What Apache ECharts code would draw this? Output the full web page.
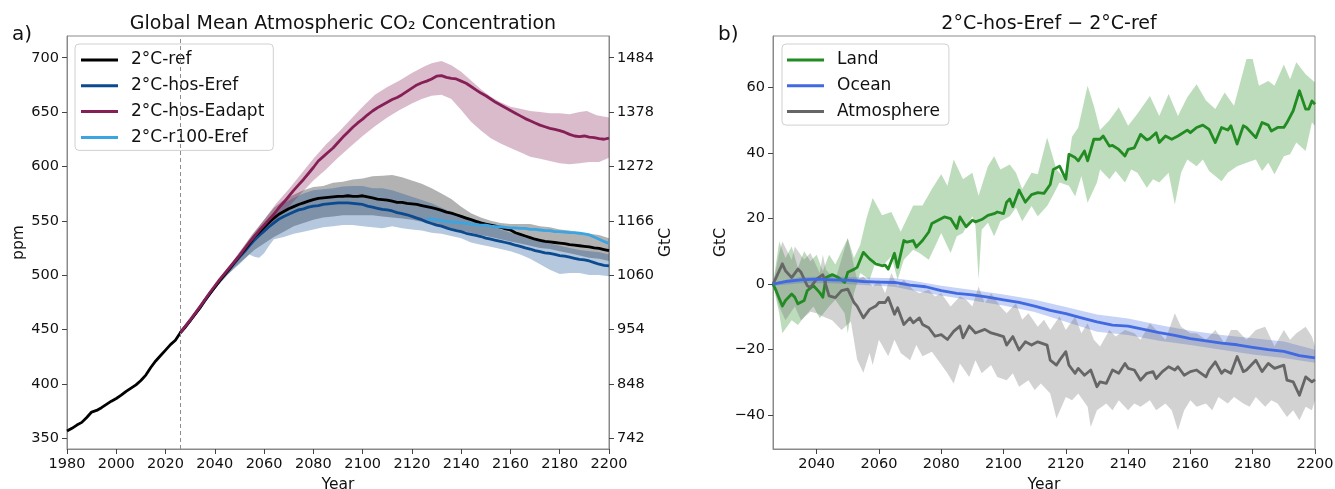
<!DOCTYPE html>
<html>
<head>
<meta charset="utf-8">
<script src="https://cdn.jsdelivr.net/npm/echarts@6/dist/echarts.min.js"></script>
<style>
html, body { margin: 0; padding: 0; background: #fff; }
#chart { width: 1335px; height: 489px; }
</style>
</head>
<body>
<div id="chart"></div>
<script>
// ---------- Panel a: CO2 concentration (ppm), [year, value] ----------
const refLine = [[1980,356.5],[1982,359],[1984,362],[1986,364.5],[1988,369],[1990,374],[1992,375.5],[1994,378],[1996,381],[1998,384],[2000,386.5],[2002,389.5],[2004,393],[2006,396],[2008,399],[2010,403],[2012,408],[2014,415],[2016,421],[2018,426],[2020,431],[2022,436],[2024,440],[2026,447],
  [2028,452],[2030,458],[2032,464],[2034,470],[2036,477],[2038,483],[2040,489],[2042,495],[2044,500.5],[2046,506],[2048,512],[2050,517.5],[2052,523],[2054,529],[2056,535],[2058,539.5],[2060,544],[2062,548.5],[2064,552.5],[2066,556],[2068,558.5],[2070,561],[2072,563],[2074,565],[2076,566.5],[2078,568],[2080,569.5],[2082,570.5],[2084,571],[2086,571.5],[2088,572],[2090,572.5],[2092,572.5],[2094,573],[2096,572.5],[2098,572.5],[2100,573],[2102,572],[2104,571],[2106,570],[2108,569.5],[2110,569],[2112,568],[2114,567],[2116,567],[2118,566],[2120,565.5],[2122,565],[2124,564],[2126,563],[2128,562],[2130,561],[2132,559.5],[2134,558],[2136,557],[2138,555.5],[2140,554],[2142,552.5],[2144,551],[2146,549.5],[2148,548],[2150,547],[2152,546],[2154,545],[2156,544],[2158,542.5],[2160,541.5],[2162,539],[2164,537.5],[2166,536],[2168,534.5],[2170,533],[2172,532],[2174,531],[2176,530.5],[2178,530],[2180,529.5],[2182,529],[2184,528],[2186,527.5],[2188,527],[2190,526.5],[2192,526],[2194,525],[2196,524.5],[2198,523.5],[2200,522.5]];
const refHi = [[2026,449],[2030,461],[2035,476],[2040,491],[2045,505],[2050,521],[2055,537],[2060,551],[2064,562],[2068,569],[2072,574],[2076,578],[2080,581],[2084,582],[2088,585],[2092,586],[2096,588],[2100,589],[2104,591],[2108,591.5],[2112,592],[2116,590],[2120,587],[2124,584],[2128,580],[2132,575],[2136,570],[2140,563],[2144,557],[2148,553],[2152,550],[2156,548],[2160,547],[2164,547],[2168,547],[2172,545],[2176,544],[2180,542],[2184,541],[2188,539],[2192,538],[2196,537],[2200,534]];
const refLo = [[2026,446],[2030,458],[2035,473],[2040,487],[2044,497],[2048,507],[2052,515],[2056,523],[2060,529],[2064,535],[2068,540],[2072,545],[2076,548],[2080,551],[2084,553],[2088,554],[2092,555],[2096,555],[2100,555],[2104,555],[2108,554],[2112,553],[2116,552],[2120,551],[2124,549],[2128,547],[2132,545],[2136,543],[2140,541],[2144,539],[2148,537],[2152,535],[2156,533],[2160,531],[2164,529],[2168,527],[2172,525],[2176,524],[2180,522],[2184,520],[2188,518],[2192,516],[2196,515],[2200,513]];

const hosErefLine = [[2026,447],[2030,458],[2034,470],[2038,483],[2042,495],[2046,505.5],[2050,516.5],[2052,521.5],[2054,527],[2056,532],[2058,536.5],[2060,540.5],[2062,544.5],[2064,548],[2066,551.5],[2068,554],[2070,556],[2072,558],[2074,560],[2076,561],[2078,562.5],[2080,563.5],[2082,564],[2084,565],[2086,565.5],[2088,566],[2090,566.5],[2092,566.5],[2094,566.5],[2096,566],[2098,565.5],[2100,565],[2102,563.5],[2104,562.5],[2106,561.5],[2108,560.5],[2110,560],[2112,559],[2114,557.5],[2116,556.5],[2118,555.5],[2120,554],[2122,552.5],[2124,551],[2126,549],[2128,547.5],[2130,546],[2132,545],[2134,543.5],[2136,542],[2138,541],[2140,540],[2142,538.5],[2144,537.5],[2146,536.5],[2148,535.5],[2150,534],[2152,533],[2154,532],[2156,531],[2158,530],[2160,529],[2162,527.5],[2164,526.5],[2166,525],[2168,524],[2170,522.5],[2172,521.5],[2174,520.5],[2176,520],[2178,519],[2180,518],[2182,517.5],[2184,516.5],[2186,515.5],[2188,514.5],[2190,514],[2192,513],[2194,511.5],[2196,510],[2198,509],[2200,508.5]];
const hosErefHi = [[2026,449],[2030,460],[2035,475],[2040,490],[2045,505],[2050,519],[2055,535],[2060,548],[2064,558],[2068,566],[2072,571],[2076,575],[2080,578],[2084,579],[2088,580],[2092,581.5],[2096,582],[2100,582],[2104,580],[2108,580],[2112,578],[2116,575],[2120,572],[2124,569],[2128,566],[2132,562],[2136,558],[2140,555],[2144,552],[2148,548],[2152,545],[2156,542],[2160,539],[2164,536],[2168,533],[2172,531],[2176,529],[2180,527],[2184,525],[2188,523],[2192,522],[2196,521],[2200,519]];
const hosErefLo = [[2026,446],[2030,457],[2035,473],[2040,488],[2045,500],[2050,510],[2054,519],[2056,517],[2058,516],[2060,520],[2062,527],[2064,533],[2068,535],[2072,538],[2076,540],[2080,542],[2084,544],[2088,545],[2092,546],[2096,546],[2100,545],[2104,544],[2108,543],[2112,545],[2116,543],[2120,542],[2124,541],[2128,539],[2132,538],[2136,536],[2140,534],[2144,530],[2148,528],[2152,526],[2156,524],[2160,522],[2164,519],[2168,515],[2172,510],[2176,505],[2180,501],[2184,502],[2188,502],[2192,500],[2196,500],[2200,499]];

const hosEadaptLine = [[2026,447],[2030,458.5],[2034,471],[2038,484],[2042,496],[2046,507],[2050,518],[2054,530],[2058,541],[2060,546],[2062,551],[2064,556],[2066,562],[2068,567],[2070,572.5],[2072,578],[2074,583],[2076,588],[2078,593.5],[2080,599],[2082,605],[2084,609],[2086,613],[2088,617],[2090,622],[2092,627],[2094,631.5],[2096,636],[2098,640],[2100,643.5],[2102,647.5],[2104,651],[2106,654],[2108,656.5],[2110,659],[2112,661.5],[2114,663.5],[2116,666],[2118,669],[2120,672],[2122,675],[2124,677],[2126,678.5],[2128,680.5],[2130,683],[2132,683.5],[2134,682],[2136,681],[2138,680.5],[2140,678.5],[2142,676.5],[2144,673.5],[2146,670.5],[2148,667.5],[2150,665],[2152,662],[2154,659],[2156,656.5],[2158,654],[2160,651.5],[2162,649],[2164,646.5],[2166,644],[2168,642],[2170,640],[2172,638],[2174,636.5],[2176,635],[2178,634],[2180,633],[2182,631.5],[2184,629.5],[2186,628],[2188,627.5],[2190,628],[2192,627],[2194,626.5],[2196,625.5],[2198,625],[2200,626]];
const hosEadaptHi = [[2026,449],[2030,461],[2035,476],[2040,491],[2045,506],[2050,521],[2055,536],[2060,551],[2065,566],[2070,579],[2075,593],[2080,607],[2085,620],[2090,631],[2095,643],[2100,655],[2105,666],[2110,673],[2115,679],[2120,686],[2125,692],[2128,695],[2132,697],[2136,693],[2140,687],[2144,679],[2148,671],[2152,664],[2156,659],[2160,655],[2164,653],[2168,651],[2172,650],[2176,649],[2180,649],[2184,648],[2188,650],[2191,651],[2195,647],[2200,645]];
const hosEadaptLo = [[2026,446],[2030,457],[2035,473],[2040,488],[2045,503],[2050,515],[2055,529],[2060,540],[2065,551],[2070,563],[2075,575],[2080,587],[2085,597],[2090,608],[2095,618],[2100,628],[2105,637],[2110,645],[2115,652],[2120,658],[2124,662],[2128,665],[2132,666],[2136,662],[2140,652],[2144,641],[2148,633],[2152,626],[2156,621],[2160,617],[2164,613],[2168,609],[2172,607],[2176,605],[2180,603],[2184,602],[2188,603],[2192,604],[2196,604],[2200,608]];

const r100ErefLine = [[2126,552],[2128,551.5],[2130,551],[2132,550],[2134,549.5],[2136,549],[2138,548.5],[2140,548],[2142,547.5],[2144,547],[2146,546.5],[2148,546],[2150,546],[2152,545],[2154,544.5],[2156,544.5],[2158,544],[2160,543.5],[2162,543.5],[2164,543],[2166,543],[2168,542],[2170,542],[2172,541.5],[2174,541],[2176,541],[2178,540],[2180,540],[2182,539.5],[2184,539],[2186,539],[2188,538.5],[2190,538],[2192,537],[2194,535],[2196,533],[2198,531],[2200,529]];

const ppmTicks = [350, 400, 450, 500, 550, 600, 650, 700];
const gtcTickLabels = ['742', '848', '954', '1060', '1166', '1272', '1378', '1484'];

// ---------- Panel b: carbon differences (GtC), [year, value] ----------
const landLine = [[2026,0],[2027,-2],[2029,-6.7],[2030,-5],[2032,-3],[2033,-4],[2034,-6],[2036,-5],[2037,-2],[2039,-0.5],[2041,-2.6],[2042,-4],[2043,2],[2045,2.9],[2047,2],[2049,0.5],[2050,3.6],[2052,4.5],[2053,5.1],[2055,9.7],[2057,7.7],[2059,6.2],[2061,5.6],[2062,5.8],[2063,4.6],[2065,9.4],[2066,5.1],[2068,13.3],[2069,12.8],[2071,13.3],[2072,11.3],[2074,13.3],[2076,15.9],[2077,18.5],[2079,19.5],[2081,20.5],[2083,20],[2085,17],[2086,20.5],[2088,17.5],[2090,19.5],[2091,19],[2093,19.7],[2095,21],[2097,21.5],[2098,22],[2100,21.5],[2101,25],[2102,26],[2103,23.6],[2105,28.7],[2107,25],[2109,27.3],[2111,27.9],[2113,27.7],[2115,30.4],[2116,35],[2118,36],[2119,34],[2120,32],[2121,39.6],[2123,38.6],[2124,37.6],[2126,40.6],[2127,37.6],[2129,44.2],[2131,44.2],[2132,45.2],[2134,42.1],[2135,42.3],[2137,41.1],[2139,39.1],[2140,41.1],[2142,41.6],[2144,45.7],[2146,44],[2147,44.4],[2149,46.2],[2150,43.2],[2152,45.2],[2154,44.2],[2156,45.2],[2159,47],[2160,46.2],[2162,47.8],[2164,48.5],[2166,47.2],[2168,43.2],[2170,47.8],[2172,47],[2173,48.3],[2175,42.7],[2177,48.3],[2178,47.8],[2181,44.7],[2183,49.3],[2185,48.5],[2186,46.7],[2188,47.8],[2190,47.8],[2191,49.3],[2193,52.9],[2195,59],[2197,53.4],[2198,53.4],[2199,55.9],[2200,54.9]];
const landHi = [[2026,0],[2028,13],[2030,8],[2032,11.5],[2034,5],[2036,10],[2038,7],[2040,9],[2042,4],[2044,9],[2046,6],[2048,10],[2050,14],[2052,8],[2054,12],[2056,20],[2058,26.3],[2061,21],[2064,22],[2067,16],[2068,18],[2071,24],[2074,24],[2077,29],[2080,33.5],[2082,30],[2084,38],[2087,32],[2090,34],[2092,27],[2095,36],[2097,39],[2099,35],[2102,36.5],[2104,34],[2106,29],[2109,34],[2111,33.5],[2114,44.7],[2117,35],[2120,32],[2122,45],[2124,47.8],[2127,60.5],[2129,54.4],[2131,47],[2134,50],[2137,54],[2140,48.3],[2143,52],[2147,57.4],[2150,51.3],[2153,58],[2156,51.3],[2159,57],[2162,61],[2165,56],[2168,53.4],[2171,58.5],[2174,54.4],[2178,68.7],[2180,68.7],[2182,60.5],[2185,62],[2187,60.5],[2190,67],[2192,62.5],[2194,67.7],[2197,64],[2200,61.5]];
const landLo = [[2026,0],[2028,-8.9],[2029,-15],[2032,-11],[2034,-12.5],[2036,-10],[2039,-6.8],[2041,-10.4],[2044,-6.8],[2046,-4.8],[2049,-8.9],[2050,-15],[2052,-2.8],[2054,3.4],[2057,1.3],[2059,7],[2061,5.4],[2064,8.5],[2066,1.3],[2068,7.4],[2071,10.5],[2073,9.5],[2076,7.4],[2078,11.5],[2080,15.6],[2083,9.5],[2085,14.6],[2087,15.6],[2090,20.7],[2091,17.7],[2092,1.3],[2093,16.6],[2095,18.7],[2097,14.6],[2099,19.2],[2102,20.7],[2104,23.3],[2106,19.2],[2109,23.8],[2111,20.7],[2114,23.8],[2116,27.3],[2118,31],[2121,30],[2123,26.8],[2125,33],[2127,24.8],[2130,31],[2131,35],[2134,32],[2136,34.5],[2139,31],[2141,35],[2143,34],[2146,29.4],[2148,32],[2150,31],[2153,34],[2155,24.3],[2157,34],[2159,38],[2162,36],[2164,38],[2166,34.5],[2170,31.4],[2172,34],[2175,36],[2178,37],[2181,38],[2183,34.5],[2185,37],[2187,33.5],[2190,39],[2192,39.6],[2194,43.2],[2197,40.6],[2199,49.3],[2200,48.3]];

const oceanLine = [[2026,0],[2030,0.8],[2035,1.3],[2040,1.5],[2045,1.3],[2050,1.2],[2055,0.8],[2060,0.6],[2065,0.5],[2070,-0.3],[2075,-0.8],[2080,-2],[2085,-2.8],[2090,-3.3],[2095,-4],[2100,-4.8],[2105,-5.6],[2110,-6.7],[2115,-8],[2120,-9],[2125,-10.3],[2130,-11.5],[2135,-12.5],[2140,-12.8],[2145,-13.8],[2150,-14.8],[2155,-15.6],[2160,-16.6],[2165,-17.3],[2170,-18],[2175,-18.5],[2180,-19.3],[2185,-20],[2190,-20.5],[2195,-21.8],[2200,-22.5]];
const oceanHi = [[2026,0.5],[2035,2.2],[2045,2.3],[2055,2],[2065,1.8],[2070,1.2],[2080,-0.5],[2090,-1.8],[2100,-3.2],[2110,-4.8],[2120,-7],[2130,-9.3],[2140,-10.5],[2150,-12.5],[2160,-14.2],[2170,-15.5],[2180,-16.5],[2190,-17.5],[2200,-20]];
const oceanLo = [[2026,-0.5],[2035,0.3],[2045,0.3],[2055,-0.3],[2065,-0.8],[2070,-1.8],[2080,-3.5],[2090,-5],[2100,-6.5],[2110,-8.5],[2120,-11.5],[2130,-14.5],[2140,-15.5],[2150,-17.3],[2160,-18.6],[2170,-20],[2180,-21.5],[2190,-22.5],[2200,-24]];

const atmosLine = [[2026,0],[2027,2],[2029,6.2],[2030,4.1],[2032,2],[2034,4.6],[2035,3.6],[2037,-0.5],[2038,-1],[2040,1.5],[2042,2.9],[2044,-3.6],[2046,-4.1],[2048,-2],[2050,-1.5],[2052,-5.6],[2053,-6.7],[2055,-10.3],[2057,-7.7],[2059,-6.7],[2060,-5.6],[2062,-5.6],[2063,-4.1],[2065,-9.2],[2066,-7.2],[2068,-12.3],[2070,-10.3],[2071,-11.8],[2073,-10.3],[2074,-12.3],[2076,-13.3],[2078,-15.9],[2080,-15.4],[2082,-16.9],[2084,-14.4],[2086,-12.8],[2087,-16.4],[2089,-12.8],[2091,-14.9],[2094,-13.8],[2096,-14.9],[2098,-15.4],[2100,-16],[2101,-18.6],[2103,-16],[2105,-20.1],[2107,-17.6],[2109,-18.6],[2111,-17.6],[2114,-18.6],[2115,-23.2],[2117,-24.7],[2118,-23.2],[2120,-20.6],[2121,-24.7],[2123,-27.2],[2124,-25.7],[2126,-27.8],[2128,-26.2],[2130,-31.3],[2131,-29.8],[2133,-30.3],[2135,-26.2],[2137,-27.2],[2139,-24.2],[2140,-25.7],[2142,-26.2],[2144,-29.3],[2146,-27.2],[2148,-26.7],[2149,-28.8],[2151,-26.7],[2153,-25.2],[2155,-26.2],[2156,-25.2],[2158,-27.8],[2160,-26.7],[2162,-26.2],[2165,-28.3],[2166,-26.2],[2168,-23.7],[2170,-27.2],[2171,-26.2],[2173,-27.2],[2175,-22.1],[2177,-26.7],[2178,-26.2],[2181,-23.2],[2183,-26.7],[2185,-24.2],[2187,-25.7],[2190,-24.7],[2191,-29.3],[2193,-29.8],[2195,-33.9],[2197,-28.3],[2199,-29.8],[2200,-29.1]];
const atmosHi = [[2026,0],[2028,9.5],[2029,13],[2032,7.4],[2033,11.5],[2036,7.4],[2038,9.5],[2041,3.4],[2042,9],[2043,4.4],[2046,1.3],[2050,14],[2053,1.3],[2055,2.3],[2058,-0.7],[2060,1.3],[2062,-2.8],[2064,3.4],[2066,-0.7],[2068,1.3],[2071,-1.7],[2073,-2.8],[2076,-1.7],[2078,-3.8],[2080,-2.8],[2083,-6.8],[2086,-3.8],[2088,-4.8],[2090,-6.8],[2092,-0.7],[2094,-5.8],[2096,-2.8],[2099,-6.8],[2101,-8.9],[2104,-5.8],[2106,-10.9],[2108,-8.9],[2111,-13],[2113,-10.9],[2115,-14],[2118,-9.9],[2120,-14],[2123,-9.9],[2125,-15],[2127,-11.9],[2129,-17],[2131,-19],[2134,-14],[2136,-16],[2139,-14],[2142,-15],[2144,-17],[2147,-11.9],[2149,-14],[2152,-17],[2155,-8.9],[2157,-13],[2160,-15],[2162,-15],[2165,-17],[2168,-14],[2171,-18],[2173,-14],[2175,-14],[2178,-17],[2181,-14],[2184,-13],[2187,-19],[2190,-14],[2192,-17],[2194,-15],[2197,-13],[2199,-16],[2200,-19]];
const atmosLo = [[2026,0],[2028,-6.8],[2030,-11],[2033,-6.8],[2035,-11],[2038,-8.4],[2040,-8.9],[2042,-9.9],[2045,-11],[2048,-14],[2051,-11.4],[2053,-23],[2055,-27],[2057,-21],[2058,-24.7],[2060,-17],[2063,-22],[2065,-17],[2067,-21],[2070,-23.2],[2072,-18.6],[2074,-22],[2077,-20.6],[2079,-23.2],[2082,-27.2],[2084,-30.3],[2086,-24.2],[2089,-28.3],[2091,-23.2],[2093,-27.2],[2096,-24.7],[2098,-28.3],[2101,-29.3],[2103,-27.2],[2105,-31.3],[2108,-29.3],[2110,-32.3],[2112,-30.3],[2115,-33.4],[2117,-41],[2120,-34.4],[2122,-35.4],[2124,-33.4],[2127,-37.4],[2128,-43.6],[2130,-38.5],[2133,-36.4],[2135,-38.5],[2137,-35.4],[2140,-38.5],[2142,-36.4],[2144,-37.4],[2147,-35.4],[2149,-38.5],[2152,-36.4],[2154,-38.5],[2156,-44.6],[2158,-38.5],[2160,-35.4],[2162,-37.4],[2165,-36.4],[2167,-38.5],[2169,-34.4],[2172,-36.4],[2174,-34.4],[2177,-36.4],[2179,-37.4],[2181,-34.4],[2184,-37.4],[2186,-35.4],[2188,-36.4],[2191,-40.5],[2193,-38.5],[2195,-41.5],[2197,-37.4],[2199,-38.5],[2200,-35.4]];

const gtcTicksB = [-40, -20, 0, 20, 40, 60];
const yearTicksB = [2040, 2060, 2080, 2100, 2120, 2140, 2160, 2180, 2200];

// ---------- helpers ----------
const FONT = 'DejaVu Sans';
const scenarioStart = 2026;

// shaded ensemble spread: polygon along the upper edge and back along the lower edge
function bandSeries(hi, lo, color, xi, yi) {
  return {
    type: 'custom', xAxisIndex: xi, yAxisIndex: yi, silent: true, clip: true, z: 1,
    data: [hi[0]], encode: { x: 0, y: 1 },
    renderItem: function (params, api) {
      const pts = hi.map(p => api.coord(p)).concat(lo.slice().reverse().map(p => api.coord(p)));
      return { type: 'polygon', shape: { points: pts }, style: { fill: color } };
    }
  };
}
function lineSeries(name, data, color, xi, yi) {
  return {
    type: 'line', name: name, data: data, xAxisIndex: xi, yAxisIndex: yi,
    symbol: 'none', smooth: false, z: 3,
    lineStyle: { color: color, width: 2.8, join: 'round' },
    itemStyle: { color: color }
  };
}

const tickLabel = { fontFamily: FONT, fontSize: 14.5, color: '#111' };
const spine = { show: true, onZero: false, lineStyle: { color: '#8a8a8a', width: 1 } };
const ticks = { show: true, length: 5, lineStyle: { color: '#444', width: 1 } };
const axisName = { fontFamily: FONT, fontSize: 15.5, color: '#111' };
const legendBase = {
  orient: 'vertical', icon: 'rect', itemWidth: 37, itemHeight: 3, itemGap: 8.8,
  backgroundColor: '#ffffff', borderColor: '#d0d0d0', borderWidth: 1, borderRadius: 4,
  textStyle: { fontFamily: FONT, fontSize: 17, color: '#111', padding: [0, 0, 0, 8] },
  selectedMode: false
};

const C = {
  ref: '#000000', hosEref: '#0b4a8f', hosEadapt: '#861f55', r100: '#3aa5e0',
  land: '#228b22', ocean: '#4169e1', atmos: '#666666'
};

const chart = echarts.init(document.getElementById('chart'), null, { renderer: 'canvas' });
chart.setOption({
  animation: false,
  backgroundColor: '#ffffff',
  title: [
    { text: 'Global Mean Atmospheric CO\u2082 Concentration', left: 338, top: 10, textAlign: 'center',
      textStyle: { fontFamily: FONT, fontSize: 19, fontWeight: 'normal', color: '#111' } },
    { text: '2\u00b0C-hos-Eref \u2212 2\u00b0C-ref', left: 1044, top: 10, textAlign: 'center',
      textStyle: { fontFamily: FONT, fontSize: 19, fontWeight: 'normal', color: '#111' } }
  ],
  graphic: [
    { type: 'text', left: 12, top: 25, style: { text: 'a)', fontFamily: FONT, fontSize: 20, fill: '#111' } },
    { type: 'text', left: 718, top: 25, style: { text: 'b)', fontFamily: FONT, fontSize: 20, fill: '#111' } }
  ],
  grid: [
    { left: 67, top: 36, width: 542, height: 413, outerBoundsMode: 'none', show: true,
      borderColor: '#8a8a8a', borderWidth: 1, backgroundColor: 'transparent' },
    { left: 773, top: 36, width: 542, height: 413, outerBoundsMode: 'none', show: true,
      borderColor: '#8a8a8a', borderWidth: 1, backgroundColor: 'transparent' }
  ],
  legend: [
    Object.assign({}, legendBase, {
      data: ['2\u00b0C-ref', '2\u00b0C-hos-Eref', '2\u00b0C-hos-Eadapt', '2\u00b0C-r100-Eref'],
      left: 75, top: 44, padding: [7.5, 9, 4.5, 6]
    }),
    Object.assign({}, legendBase, {
      data: ['Land', 'Ocean', 'Atmosphere'],
      left: 782, top: 44, padding: [7.5, 9, 5, 5]
    })
  ],
  xAxis: [
    { type: 'value', gridIndex: 0, min: 1980, max: 2200, interval: 20,
      name: 'Year', nameLocation: 'middle', nameGap: 25, nameTextStyle: axisName,
      axisLine: spine, axisTick: ticks, splitLine: { show: false },
      axisLabel: Object.assign({ margin: 8, formatter: v => String(v) }, tickLabel) },
    { type: 'value', gridIndex: 1, min: 2026, max: 2200,
      name: 'Year', nameLocation: 'middle', nameGap: 25, nameTextStyle: axisName,
      axisLine: spine, axisTick: Object.assign({ customValues: yearTicksB }, ticks), splitLine: { show: false },
      axisLabel: Object.assign({ margin: 8, customValues: yearTicksB, formatter: v => String(v) }, tickLabel) }
  ],
  yAxis: [
    { type: 'value', gridIndex: 0, min: 340, max: 720, position: 'left',
      name: 'ppm', nameLocation: 'middle', nameGap: 39, nameTextStyle: axisName,
      axisLine: spine, axisTick: Object.assign({ customValues: ppmTicks }, ticks), splitLine: { show: false },
      axisLabel: Object.assign({ margin: 8, customValues: ppmTicks }, tickLabel) },
    { type: 'value', gridIndex: 0, min: 340, max: 720, position: 'right',
      name: 'GtC', nameLocation: 'middle', nameGap: 49, nameRotate: 90, nameTextStyle: axisName,
      axisLine: spine, axisTick: Object.assign({ customValues: ppmTicks }, ticks), splitLine: { show: false },
      axisLabel: Object.assign({ margin: 8, customValues: ppmTicks,
        formatter: v => gtcTickLabels[ppmTicks.indexOf(v)] || '' }, tickLabel) },
    { type: 'value', gridIndex: 1, min: -50.3, max: 75.7, position: 'left',
      name: 'GtC', nameLocation: 'middle', nameGap: 44, nameTextStyle: axisName,
      axisLine: spine, axisTick: Object.assign({ customValues: gtcTicksB }, ticks), splitLine: { show: false },
      axisLabel: Object.assign({ margin: 8, customValues: gtcTicksB,
        formatter: v => (v < 0 ? '\u2212' + Math.abs(v) : String(v)) }, tickLabel) }
  ],
  series: [
    // panel a: spread bands
    bandSeries(refHi, refLo, 'rgba(0,0,0,0.3)', 0, 0),
    bandSeries(hosErefHi, hosErefLo, 'rgba(11,74,143,0.3)', 0, 0),
    bandSeries(hosEadaptHi, hosEadaptLo, 'rgba(134,31,85,0.3)', 0, 0),
    // panel a: ensemble means, with the scenario start marked
    Object.assign(lineSeries('2\u00b0C-hos-Eref', hosErefLine, C.hosEref, 0, 0), {
      markLine: { silent: true, symbol: 'none', label: { show: false },
        lineStyle: { color: '#8c8c8c', type: [4, 3], width: 1 },
        data: [{ xAxis: scenarioStart }] } }),
    lineSeries('2\u00b0C-ref', refLine, C.ref, 0, 0),
    lineSeries('2\u00b0C-r100-Eref', r100ErefLine, C.r100, 0, 0),
    lineSeries('2\u00b0C-hos-Eadapt', hosEadaptLine, C.hosEadapt, 0, 0),
    // panel b: spread bands
    bandSeries(landHi, landLo, 'rgba(34,139,34,0.3)', 1, 2),
    bandSeries(oceanHi, oceanLo, 'rgba(65,105,225,0.3)', 1, 2),
    bandSeries(atmosHi, atmosLo, 'rgba(105,105,105,0.3)', 1, 2),
    // panel b: ensemble means
    lineSeries('Land', landLine, C.land, 1, 2),
    lineSeries('Atmosphere', atmosLine, C.atmos, 1, 2),
    lineSeries('Ocean', oceanLine, C.ocean, 1, 2)
  ]
});
</script>
</body>
</html>
